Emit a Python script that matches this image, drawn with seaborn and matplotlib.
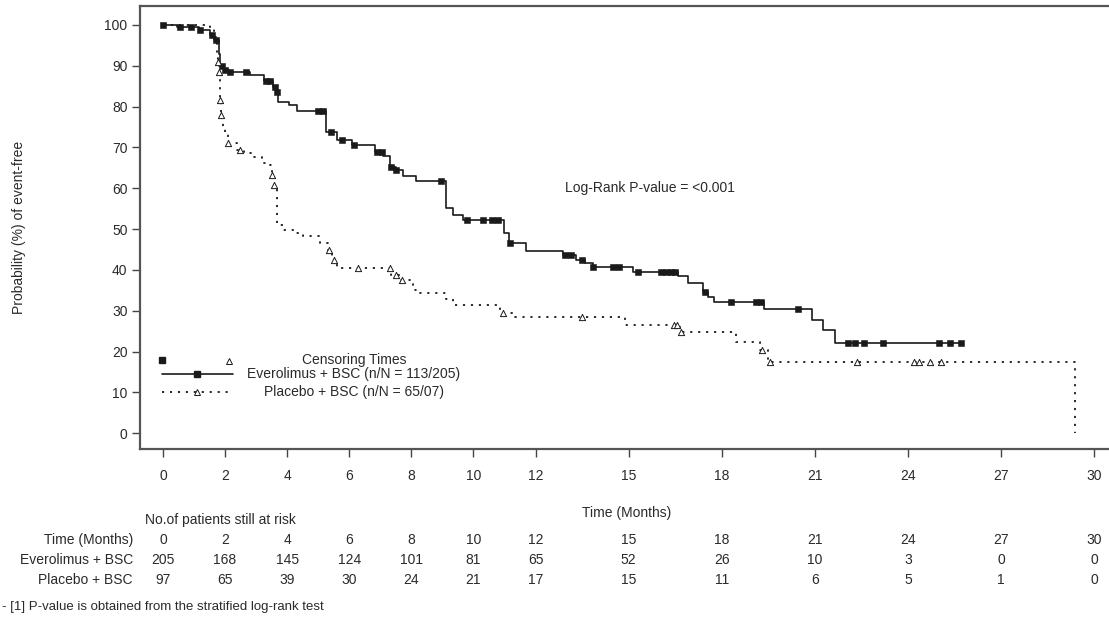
import numpy as np
import pandas as pd
import seaborn as sns
import matplotlib.pyplot as plt
from matplotlib.transforms import blended_transform_factory

# Kaplan-Meier steps (months, % event-free)
evero_time = [0, 0.45, 1.15, 1.5, 1.65, 1.8, 1.84, 1.95, 2.14, 2.8, 3.24, 3.54, 3.67, 3.72, 4.05,
              4.32, 5.24, 5.6, 6.09, 6.84, 7.1, 7.3, 7.5, 7.72, 8.15, 9.13, 9.35, 9.66, 11.0, 11.15,
              11.7, 12.9, 13.3, 13.6, 13.85, 15.15, 16.6, 16.9, 17.4, 17.55, 17.74, 19.36, 20.9,
              21.25, 21.65, 25.7]
evero_surv = [100, 99.5, 98.8, 97.5, 96.3, 93.0, 90.0, 88.9, 88.4, 87.8, 86.3, 84.7, 83.7, 81.1, 80.3,
              78.9, 73.8, 71.8, 70.6, 69.0, 68.0, 65.3, 64.4, 62.9, 61.7, 55.2, 53.4, 52.2, 49.0, 46.5,
              44.7, 43.6, 42.4, 41.6, 40.8, 39.6, 38.4, 36.7, 34.7, 33.5, 32.2, 30.4, 27.7,
              25.3, 22.2, 22.2]
evero_cens_time = [0.0, 0.55, 0.9, 1.2, 1.58, 1.72, 1.9, 2.0, 2.16, 2.68, 3.33, 3.45, 3.6, 3.68, 5.0,
                   5.15, 5.4, 5.77, 6.14, 6.9, 7.05, 7.35, 7.5, 8.97, 9.78, 10.3, 10.6, 10.8, 11.18, 12.95,
                   13.15, 13.5, 13.85, 14.5, 14.7, 15.3, 16.05, 16.2, 16.35, 16.5, 17.45, 18.3, 19.1, 19.25,
                   20.45, 22.05, 22.3, 22.57, 23.2, 25.0, 25.35, 25.7]
evero_cens_surv = [100, 99.5, 99.5, 98.8, 97.5, 96.3, 90.0, 88.9, 88.4, 88.4, 86.3, 86.3, 84.7, 83.7, 78.9,
                   78.9, 73.8, 71.8, 70.6, 69.0, 69.0, 65.3, 64.4, 61.7, 52.2, 52.2, 52.2, 52.2, 46.5, 43.6,
                   43.6, 42.4, 40.8, 40.8, 40.8, 39.6, 39.6, 39.6, 39.6, 39.6, 34.7, 32.2, 32.2, 32.2,
                   30.4, 22.2, 22.2, 22.2, 22.2, 22.2, 22.2, 22.2]

placebo_time = [0, 1.5, 1.65, 1.75, 1.78, 1.8, 1.83, 1.86, 1.94, 2.0, 2.1, 2.4, 2.6, 2.9, 3.2,
                3.45, 3.5, 3.58, 3.68, 3.87, 4.3, 4.5, 5.06, 5.3, 5.45, 5.6, 7.35, 7.63, 8.05, 8.2,
                9.1, 9.35, 10.85, 11.34, 14.88, 16.65, 18.45, 19.24, 19.5, 29.37]
placebo_surv = [100, 99.2, 97.0, 92.0, 90.9, 88.6, 81.6, 78.0, 75.0, 73.2, 71.2, 69.5, 68.6, 67.6, 66.2,
                65.7, 63.3, 60.8, 51.0, 49.8, 49.0, 48.2, 46.5, 44.9, 42.4, 40.4, 38.8, 37.5, 35.1, 34.3,
                33.0, 31.3, 29.5, 28.5, 26.5, 24.9, 22.4, 20.4, 17.5, 0.0]
placebo_cens_time = [1.77, 1.8, 1.83, 1.86, 2.1, 2.48, 3.5, 3.58, 5.35, 5.5, 6.28, 7.3, 7.5, 7.7, 10.95,
                     13.5, 16.45, 16.55, 16.7, 19.3, 19.55, 22.35, 24.2, 24.35, 24.7, 25.05]
placebo_cens_surv = [90.9, 88.6, 81.6, 78.0, 71.2, 69.5, 63.3, 60.8, 44.9, 42.4, 40.4, 40.4, 38.8, 37.5, 29.5,
                     28.5, 26.5, 26.5, 24.9, 20.4, 17.5, 17.5, 17.5, 17.5, 17.5, 17.5]

# number at risk table
risk_times = [0, 2, 4, 6, 8, 10, 12, 15, 18, 21, 24, 27, 30]
risk_evero = [205, 168, 145, 124, 101, 81, 65, 52, 26, 10, 3, 0, 0]
risk_placebo = [97, 65, 39, 30, 24, 21, 17, 15, 11, 6, 5, 1, 0]

evero_label = 'Everolimus + BSC (n/N = 113/205)'
placebo_label = 'Placebo + BSC (n/N = 65/07)'

sns.set_theme(style='ticks')
plt.rcParams['font.family'] = ['Liberation Sans', 'DejaVu Sans']
ink = '#1a1a1a'
txt = '#2a2a2a'

fig = plt.figure(figsize=(11.09, 6.17), dpi=100)
ax = fig.add_axes([0.1262, 0.2718, 0.8738, 0.7185])

ev = pd.DataFrame({'time': evero_time, 'surv': evero_surv})
pl = pd.DataFrame({'time': placebo_time, 'surv': placebo_surv})
ev_c = pd.DataFrame({'time': evero_cens_time, 'surv': evero_cens_surv})
pl_c = pd.DataFrame({'time': placebo_cens_time, 'surv': placebo_cens_surv})

sns.lineplot(data=ev, x='time', y='surv', estimator=None, drawstyle='steps-post',
             color=ink, linewidth=1.2, ax=ax)
sns.lineplot(data=pl, x='time', y='surv', estimator=None, drawstyle='steps-post',
             color=ink, linewidth=1.3, linestyle=(0, (1.2, 3.2)), ax=ax)
sns.scatterplot(data=ev_c, x='time', y='surv', marker='s', s=20, color=ink,
                edgecolor=ink, linewidth=0.4, ax=ax, zorder=3)
sns.scatterplot(data=pl_c, x='time', y='surv', marker='^', s=20, facecolor='white',
                edgecolor=ink, linewidth=0.7, ax=ax, zorder=3)

ax.set_xlim(-0.741, 30.47)
ax.set_ylim(-3.92, 104.65)
ax.set_xticks(risk_times)
ax.set_yticks(range(0, 101, 10))
ax.tick_params(axis='both', length=6, width=1, color='#444', labelsize=10, labelcolor=txt, pad=3)
ax.tick_params(axis='x', pad=8)
for side in ['left', 'bottom', 'top']:
    ax.spines[side].set_linewidth(1.6)
    ax.spines[side].set_color('#555')
ax.spines['right'].set_visible(False)

ax.set_xlabel('Time (Months)', fontsize=10, color=txt)
ax.xaxis.set_label_coords(0.5026, -0.128)
ax.set_ylabel('Probability (%) of event-free', fontsize=10, color=txt)
ax.yaxis.set_label_coords(-0.118, 0.5)

ax.text(12.95, 60.0, 'Log-Rank P-value = <0.001', fontsize=10, color=txt, va='center', ha='left')

# legend block drawn in axes coordinates
ta = ax.transAxes
ax.plot([0.0224], [0.2014], marker='s', ms=5, color=ink, transform=ta, clip_on=False)
ax.plot([0.0918], [0.1997], marker='^', ms=5, mfc='white', mec=ink, mew=0.7, transform=ta)
ax.text(0.2208, 0.2014, 'Censoring Times', transform=ta, ha='center', va='center', fontsize=10, color=txt)
ax.plot([0.0224, 0.0960], [0.1699, 0.1699], color=ink, lw=1.2, transform=ta)
ax.plot([0.0585], [0.1699], marker='s', ms=4.5, color=ink, transform=ta)
ax.text(0.2208, 0.1699, evero_label, transform=ta, ha='center', va='center', fontsize=10, color=txt)
ax.plot([0.0224, 0.0960], [0.1286, 0.1286], color=ink, lw=1.3, ls=(0, (1.2, 3.2)), transform=ta)
ax.plot([0.0585], [0.1286], marker='^', ms=4, mfc='white', mec=ink, mew=0.7, transform=ta)
ax.text(0.2208, 0.1286, placebo_label, transform=ta, ha='center', va='center', fontsize=10, color=txt)

# number at risk table
bt = blended_transform_factory(ax.transData, fig.transFigure)
def fy(py):
    return 1 - py / 617

fig.text(145 / 1109, fy(520), 'No.of patients still at risk', fontsize=10, color=txt, va='center')
rows = [('Time (Months)', risk_times, fy(540)),
        ('Everolimus + BSC', risk_evero, fy(560)),
        ('Placebo + BSC', risk_placebo, fy(580))]
for name, vals, yy in rows:
    fig.text(133 / 1109, yy, name, fontsize=10, color=txt, ha='right', va='center')
    for t, v in zip(risk_times, vals):
        ax.text(t, yy, str(v), transform=bt, fontsize=10, color=txt, ha='center', va='center')

fig.text(2 / 1109, fy(607), '- [1] P-value is obtained from the stratified log-rank test',
         fontsize=9.5, color=txt, va='center')

fig.savefig('out.png', dpi=100)
